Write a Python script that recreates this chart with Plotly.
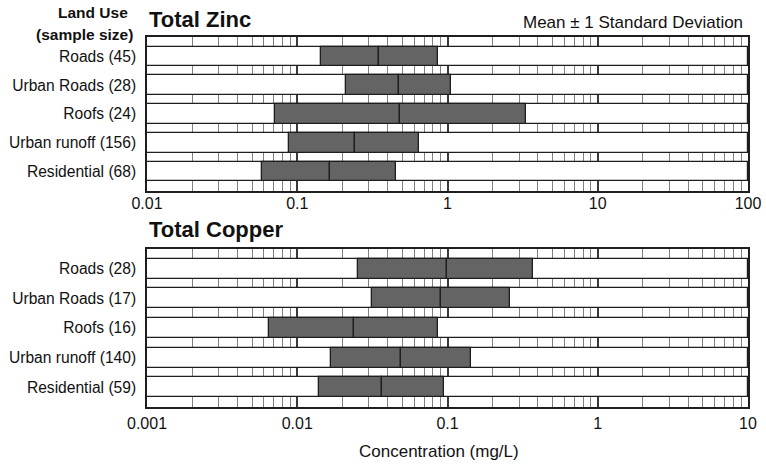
import plotly.graph_objects as go

# ---- data ----
zinc_categories = ["Roads (45)", "Urban Roads (28)", "Roofs (24)", "Urban runoff (156)", "Residential (68)"]
zinc_low = [0.143, 0.21, 0.071, 0.088, 0.058]
zinc_mean = [0.352, 0.472, 0.486, 0.242, 0.164]
zinc_high = [0.863, 1.05, 3.31, 0.646, 0.454]
zinc_range = [0.01, 100]
zinc_ticks = [0.01, 0.1, 1, 10, 100]
zinc_ticktext = ["0.01", "0.1", "1", "10", "100"]

copper_categories = ["Roads (28)", "Urban Roads (17)", "Roofs (16)", "Urban runoff (140)", "Residential (59)"]
copper_low = [0.0254, 0.0314, 0.00653, 0.01675, 0.0139]
copper_mean = [0.0985, 0.0906, 0.0237, 0.0493, 0.0365]
copper_high = [0.372, 0.26, 0.0866, 0.143, 0.0945]
copper_range = [0.001, 10]
copper_ticks = [0.001, 0.01, 0.1, 1, 10]
copper_ticktext = ["0.001", "0.01", "0.1", "1", "10"]

FONT = "Liberation Sans, Arial, sans-serif"
BAR_W = 0.67
GRAY = "#646464"
EDGE = "#1e1e1e"

fig = go.Figure()


def add_panel(cats, low, mean, high, rng, xa, ya):
    n = len(cats)
    # white row bands spanning the whole axis
    fig.add_trace(go.Bar(
        y=cats, x=[rng[1] - rng[0]] * n, base=[rng[0]] * n, orientation="h",
        width=BAR_W, marker=dict(color="white", line=dict(color=EDGE, width=1.2)),
        xaxis=xa, yaxis=ya, hoverinfo="skip"))
    # lower half: mean - SD to mean
    fig.add_trace(go.Bar(
        y=cats, x=[m - l for m, l in zip(mean, low)], base=low, orientation="h",
        width=BAR_W, marker=dict(color=GRAY, line=dict(color=EDGE, width=1.3)),
        xaxis=xa, yaxis=ya, hoverinfo="skip"))
    # upper half: mean to mean + SD
    fig.add_trace(go.Bar(
        y=cats, x=[h - m for h, m in zip(high, mean)], base=mean, orientation="h",
        width=BAR_W, marker=dict(color=GRAY, line=dict(color=EDGE, width=1.3)),
        xaxis=xa, yaxis=ya, hoverinfo="skip"))


add_panel(zinc_categories, zinc_low, zinc_mean, zinc_high, zinc_range, "x", "y")
add_panel(copper_categories, copper_low, copper_mean, copper_high, copper_range, "x2", "y2")


def minor_vals(rng):
    import math
    lo = int(round(math.log10(rng[0])))
    hi = int(round(math.log10(rng[1])))
    return [m * 10 ** e for e in range(lo, hi) for m in range(2, 10)]


def xaxis_cfg(rng, ticks, ticktext, domain_anchor, standoff):
    import math
    return dict(
        type="log", range=[math.log10(rng[0]), math.log10(rng[1])],
        tickvals=ticks, ticktext=ticktext, ticks="",
        showgrid=True, gridcolor="#3a3a3a", gridwidth=1.6,
        minor=dict(tickvals=minor_vals(rng), showgrid=True, gridcolor="#808080", gridwidth=1, ticks=""),
        showline=True, linecolor=EDGE, linewidth=1.5, mirror=True,
        zeroline=False, anchor=domain_anchor, domain=[0, 1], automargin=False,
        ticklabelstandoff=standoff,
        tickfont=dict(family=FONT, size=16, color="#111"),
    )


gap = 1 - BAR_W


def yaxis_cfg(cats, domain, xanchor):
    n = len(cats)
    return dict(
        type="category", categoryorder="array", categoryarray=cats,
        range=[n - 1 + BAR_W / 2 + gap, -BAR_W / 2 - gap],
        domain=domain, anchor=xanchor, showgrid=False, zeroline=False,
        showline=True, linecolor=EDGE, linewidth=1.5, mirror=True, ticks="",
        ticklabelstandoff=6, automargin=False,
        tickfont=dict(family=FONT, size=15.6, color="#111"),
    )


fig.update_layout(
    template="none",
    width=766, height=464,
    margin=dict(l=147, r=18, t=37, b=57, autoexpand=False),
    paper_bgcolor="white", plot_bgcolor="white",
    barmode="overlay", bargap=0, showlegend=False, hovermode=False,
    xaxis=xaxis_cfg(zinc_range, zinc_ticks, zinc_ticktext, "y", -3),
    xaxis2=xaxis_cfg(copper_range, copper_ticks, copper_ticktext, "y2", 1),
    yaxis=yaxis_cfg(zinc_categories, [0.5838, 1.0], "x"),
    yaxis2=yaxis_cfg(copper_categories, [0.0, 0.427], "x2"),
    font=dict(family=FONT, color="#111"),
)

annotations = [
    dict(text="<b>Total Zinc</b>", x=0.0, y=1.046, xanchor="left", yanchor="middle",
         font=dict(size=22)),
    dict(text="<b>Total Copper</b>", x=0.0, y=0.48, xanchor="left", yanchor="middle",
         font=dict(size=22)),
    dict(text="Mean ± 1 Standard Deviation", x=0.995, y=1.039, xanchor="right", yanchor="middle",
         font=dict(size=17)),
    dict(text="<b>Land Use</b>", x=-0.0899, y=1.066, xanchor="center", yanchor="middle",
         font=dict(size=15.5)),
    dict(text="<b>(sample size)</b>", x=-0.1048, y=1.0068, xanchor="center", yanchor="middle",
         font=dict(size=15.5)),
    dict(text="Concentration (mg/L)", x=0.486, y=-0.1216, xanchor="center", yanchor="middle",
         font=dict(size=17)),
]
for a in annotations:
    a.update(xref="paper", yref="paper", showarrow=False)
    a["font"].update(family=FONT, color="#111")
fig.update_layout(annotations=annotations)

fig.write_html("out.html")
